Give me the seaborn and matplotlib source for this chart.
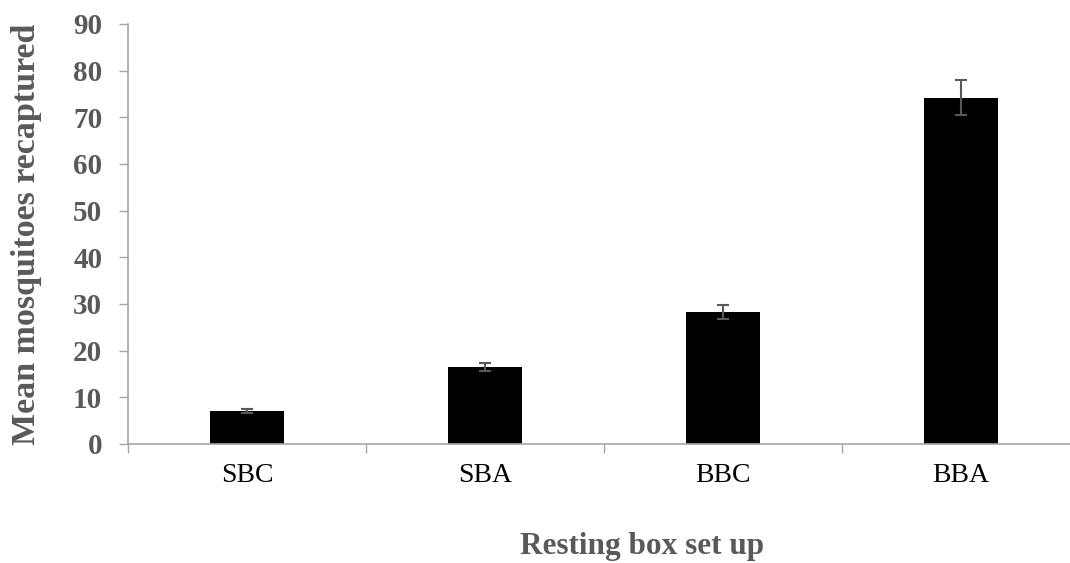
import matplotlib
matplotlib.use("Agg")
import matplotlib.pyplot as plt
import seaborn as sns
import pandas as pd
import numpy as np

# Mean recapture per resting box set-up, with standard error
setups = ["SBC", "SBA", "BBC", "BBA"]
mean_recaptured = [7.1, 16.5, 28.2, 74.2]
std_error = [0.4, 0.9, 1.5, 3.7]
y_ticks = [0, 10, 20, 30, 40, 50, 60, 70, 80, 90]

df = pd.DataFrame({"setup": setups, "mean": mean_recaptured})

sns.set_theme(style="white")
plt.rcParams["font.family"] = ["Liberation Serif", "DejaVu Serif"]

grey_text = "#595959"
axis_grey = "#a6a6a6"

fig = plt.figure(figsize=(10.7, 5.63), dpi=100)
ax = fig.add_axes([128 / 1070, 119 / 563, 952 / 1070, 420 / 563])

sns.barplot(data=df, x="setup", y="mean", order=setups, color="black",
            width=0.315, saturation=1, errorbar=None, ax=ax)
for p in ax.patches:
    p.set_edgecolor("black")
    p.set_linewidth(0)

ax.errorbar(np.arange(len(setups)), mean_recaptured, yerr=std_error,
            fmt="none", ecolor=grey_text, elinewidth=1.5, capsize=4.5,
            capthick=1.5, zorder=5)

ax.set_xlim(-0.5, len(setups) - 0.5)
ax.set_ylim(0, 90)
ax.set_yticks(y_ticks)
ax.set_yticklabels([str(v) for v in y_ticks], fontsize=21, fontweight="bold",
                   color=grey_text)
ax.tick_params(axis="y", direction="out", length=6.5, width=1, color=axis_grey,
               left=True, pad=12)

# category labels without ticks; boundary ticks between categories
ax.tick_params(axis="x", which="major", length=0, pad=14, labelsize=20,
               labelcolor="black")
ax.set_xticks(np.arange(-0.5, len(setups), 1.0), minor=True)
ax.tick_params(axis="x", which="minor", direction="out", length=6.5, width=1,
               color=axis_grey, bottom=True)

for side in ["top", "right"]:
    ax.spines[side].set_visible(False)
for side in ["left", "bottom"]:
    ax.spines[side].set_color(axis_grey)
    ax.spines[side].set_linewidth(1.2)

ax.set_xlabel("Resting box set up", fontsize=22.5, fontweight="bold",
              color=grey_text)
ax.xaxis.set_label_coords(0.54, -0.245)
ax.xaxis.label.set_verticalalignment("center")
ax.set_ylabel("Mean mosquitoes recaptured", fontsize=24.5, fontweight="bold",
              color=grey_text, labelpad=22)
ax.grid(False)

fig.savefig("out.png", dpi=100)
